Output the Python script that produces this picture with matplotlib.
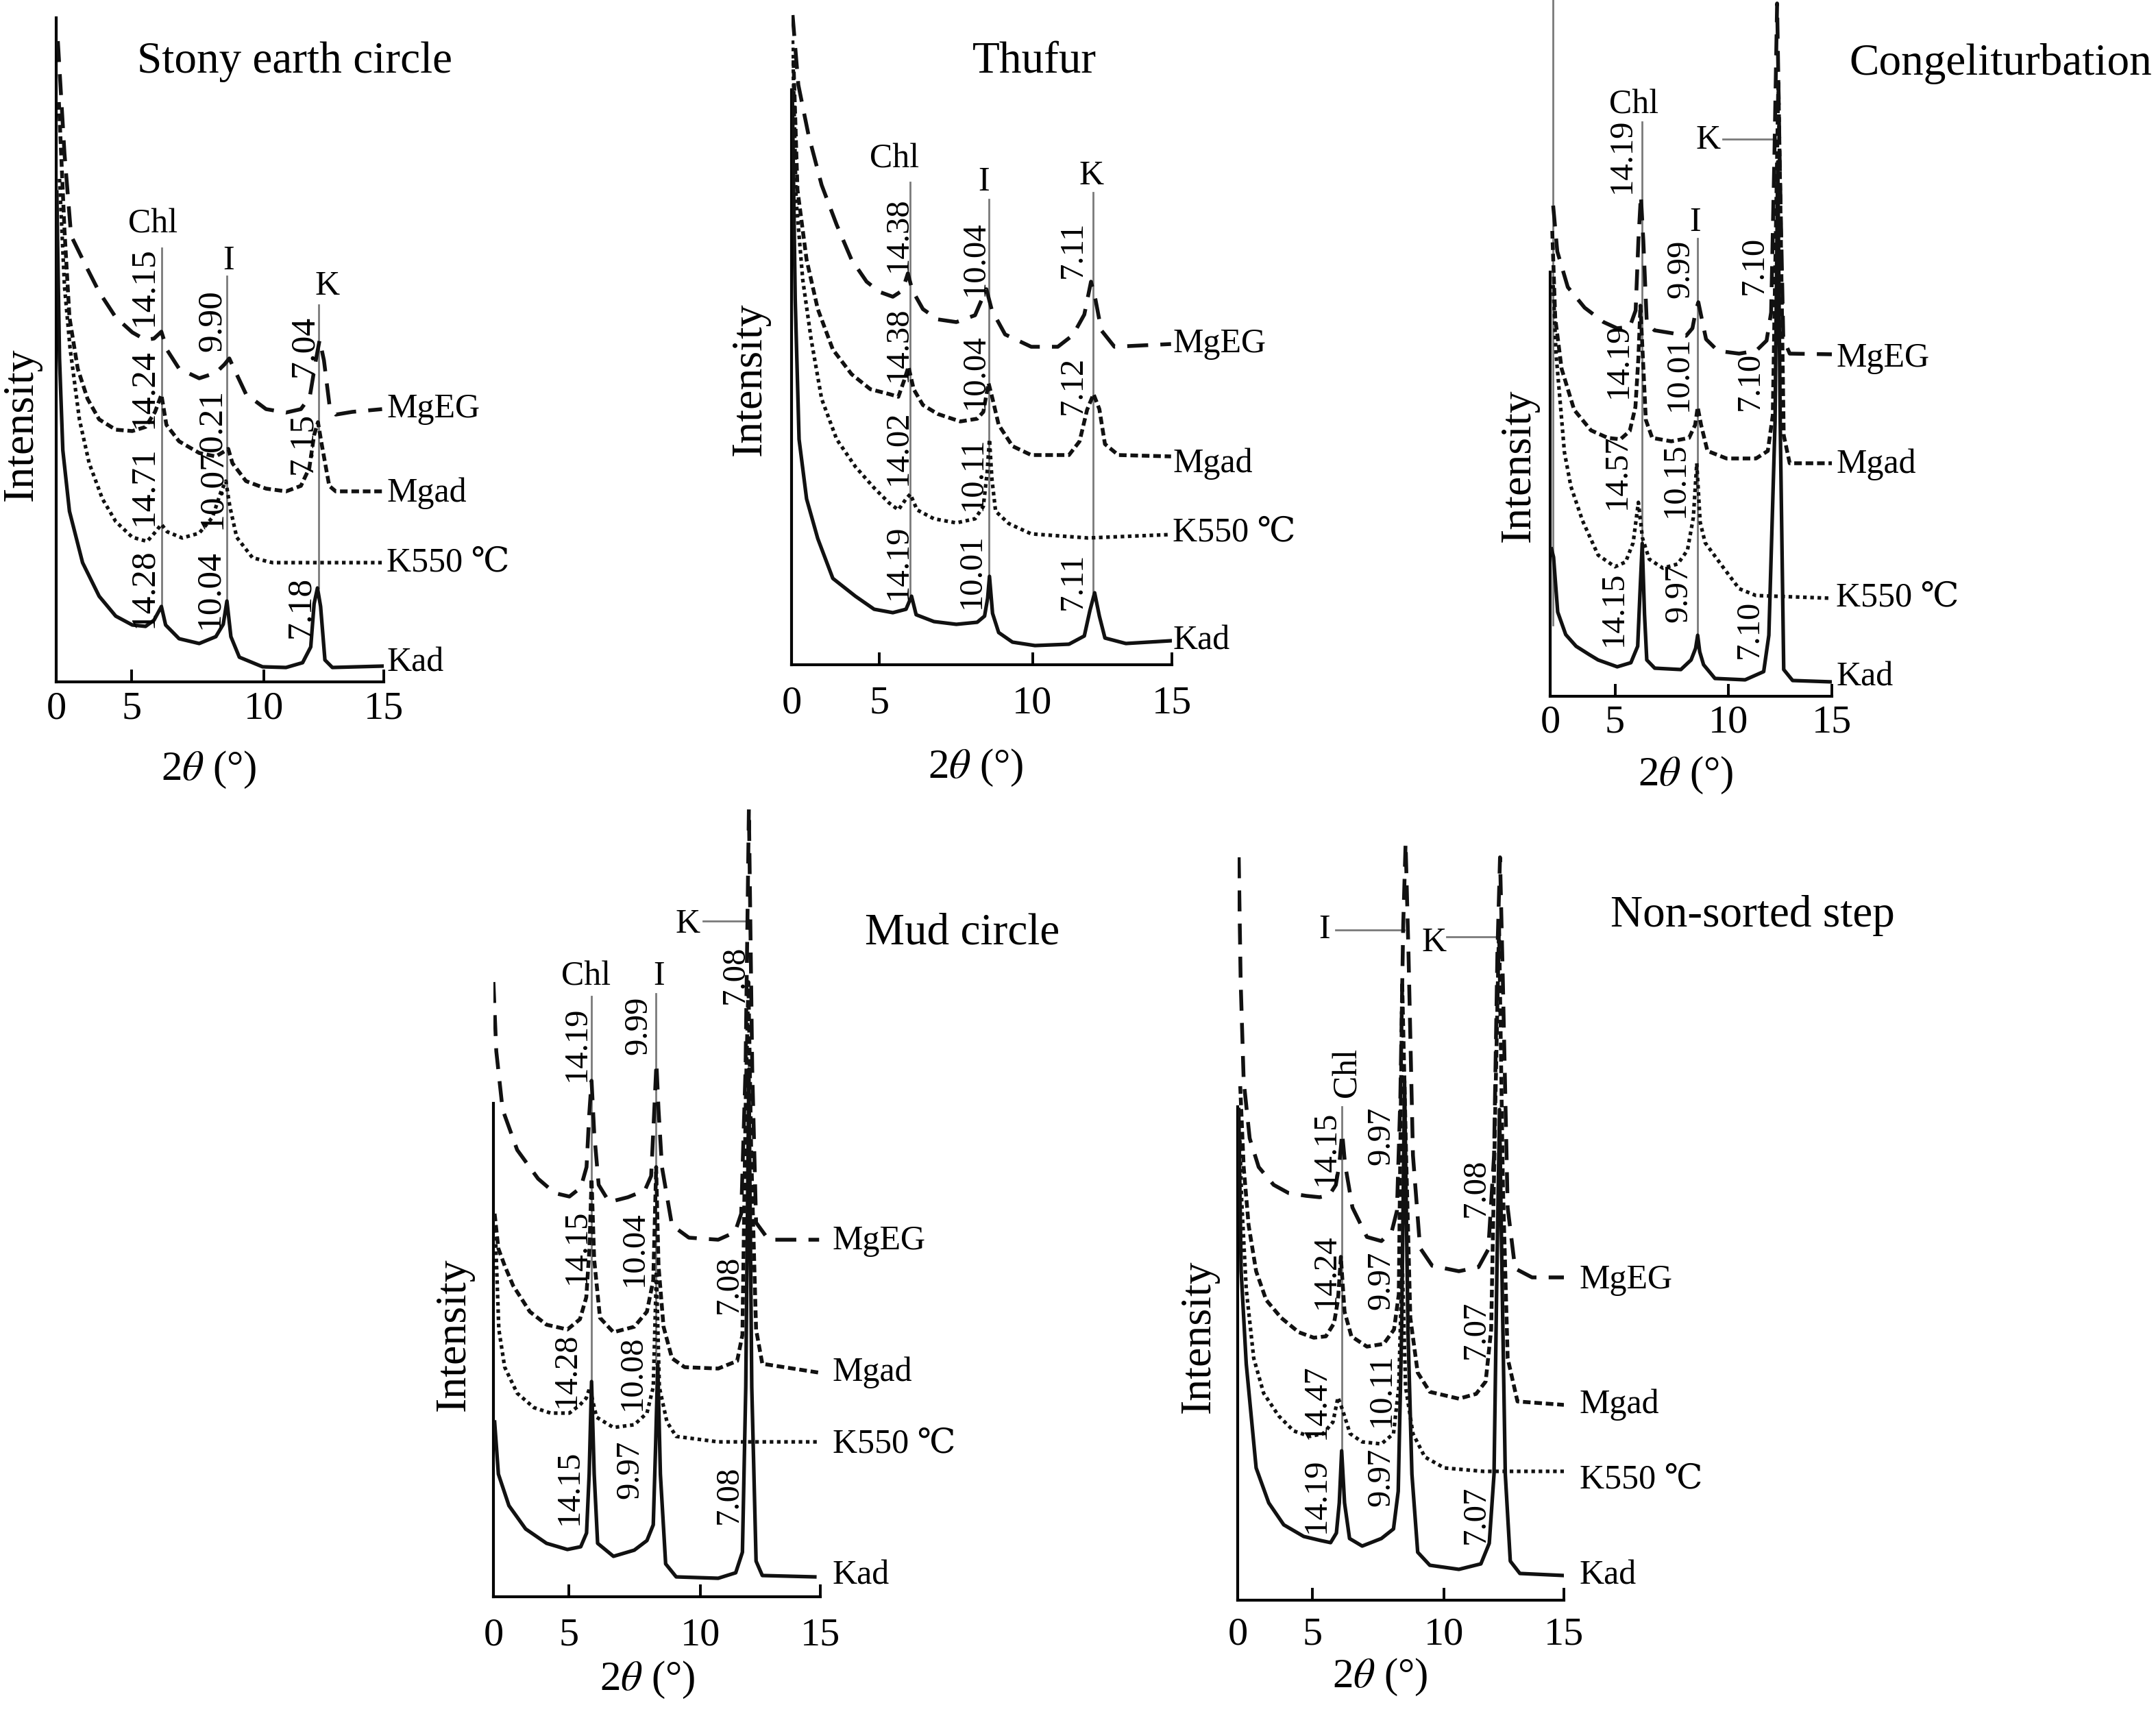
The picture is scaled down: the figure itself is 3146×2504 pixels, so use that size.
import numpy as np
import matplotlib
matplotlib.use('Agg')
from matplotlib import pyplot as plt

plt.rcParams['font.family'] = ['Liberation Serif', 'DejaVu Serif']
plt.rcParams['mathtext.fontset'] = 'stix'

W, H = 3146, 2504

series = ['MgEG', 'Mgad', 'K550 ℃', 'Kad']

# ---------------- Stony earth circle ----------------
p1_mgeg_x = [0.11, 0.55, 0.99, 1.97, 2.85, 3.95, 5.03, 5.53, 5.85, 6.13, 6.35, 6.80, 7.56, 8.19, 8.51, 8.70, 8.89, 9.33, 10.10, 10.93, 11.55, 11.92, 12.17, 12.33, 12.51, 12.75, 13.00, 13.69, 14.93]
p1_mgeg_y = [93.5, 77.1, 65.1, 60.7, 56.9, 53.2, 51.0, 49.9, 50.1, 51.1, 48.4, 45.7, 44.3, 45.1, 46.3, 47.2, 45.6, 42.0, 39.8, 39.3, 39.8, 41.6, 46.9, 49.9, 46.9, 40.1, 39.0, 39.4, 39.8]
p1_mgad_x = [0.18, 0.55, 0.88, 1.43, 2.08, 2.85, 3.95, 5.03, 5.53, 5.89, 6.13, 6.32, 6.80, 7.56, 8.19, 8.54, 8.66, 8.82, 9.33, 10.10, 10.93, 11.55, 11.90, 12.10, 12.26, 12.42, 12.73, 13.00, 14.93]
p1_mgad_y = [84.6, 65.9, 53.2, 45.7, 41.3, 38.3, 36.8, 36.6, 37.2, 39.4, 41.9, 37.5, 35.1, 33.4, 32.9, 33.7, 34.0, 31.9, 29.3, 28.2, 27.8, 28.6, 31.2, 36.0, 37.9, 34.6, 28.6, 27.8, 27.8]
p1_k550_x = [0.22, 0.55, 0.92, 1.54, 2.19, 3.07, 3.95, 5.03, 5.59, 5.91, 6.13, 6.35, 6.92, 7.56, 8.06, 8.38, 8.57, 8.72, 8.98, 9.58, 10.37, 14.93]
p1_k550_y = [73.4, 57.7, 48.7, 38.3, 31.9, 26.7, 23.4, 21.1, 20.5, 21.9, 23.0, 21.9, 21.0, 21.7, 24.0, 27.7, 29.3, 25.6, 21.1, 18.1, 17.4, 17.4]
p1_kad_x = [0.04, 0.22, 0.44, 0.88, 1.75, 2.85, 3.95, 5.03, 5.53, 5.85, 6.13, 6.29, 6.80, 7.56, 8.19, 8.47, 8.61, 8.76, 9.08, 9.96, 10.93, 11.62, 11.96, 12.10, 12.24, 12.37, 12.55, 12.86, 14.93]
p1_kad_y = [71.5, 47.2, 33.8, 24.9, 17.4, 12.5, 9.6, 8.3, 8.1, 9.0, 11.0, 8.3, 6.3, 5.6, 6.6, 8.4, 11.8, 6.6, 3.6, 2.2, 2.1, 2.8, 5.1, 11.4, 13.7, 11.0, 3.2, 2.1, 2.3]
p1_dvalues = ['14.15', '14.24', '14.71', '14.28', '9.90', '0.21', '10.07', '10.04', '7.04', '7.15', '7.18']
p1_dpos = [(5.47, 57.7), (5.47, 42.8), (5.47, 28.6), (5.47, 13.7), (8.06, 52.7), (8.06, 38.1), (8.06, 28.1), (7.94, 13.5), (11.69, 49.0), (11.62, 34.8), (11.55, 10.9)]

# ---------------- Thufur ----------------
p2_mgeg_x = [0.06, 0.39, 0.97, 1.72, 2.58, 3.43, 4.29, 5.02, 5.45, 5.76, 5.94, 6.09, 6.43, 6.91, 7.52, 8.13, 8.35, 8.50, 8.68, 9.11, 9.96, 10.91, 11.45, 11.86, 12.10, 12.26, 12.47, 12.94, 14.97]
p2_mgeg_y = [94.8, 84.6, 77.3, 70.0, 64.2, 59.1, 55.9, 54.4, 53.7, 54.6, 57.1, 54.6, 51.9, 50.4, 50.0, 51.0, 53.3, 54.8, 51.7, 48.2, 46.4, 46.4, 48.1, 51.1, 55.9, 53.3, 48.8, 46.4, 46.8]
p2_mgad_x = [0.11, 0.34, 0.86, 1.50, 2.36, 3.43, 4.51, 5.33, 5.63, 5.82, 5.96, 6.13, 6.43, 6.91, 7.65, 8.20, 8.40, 8.57, 8.70, 8.90, 9.35, 9.96, 11.31, 11.69, 11.96, 12.19, 12.40, 12.60, 13.08, 14.97]
p2_mgad_y = [88.2, 69.3, 59.1, 51.9, 46.0, 42.4, 40.2, 39.5, 39.1, 41.5, 43.5, 40.2, 37.9, 36.6, 35.5, 35.9, 36.9, 41.1, 38.8, 35.0, 31.9, 30.6, 30.6, 32.6, 37.2, 39.5, 37.3, 32.2, 30.6, 30.4]
p2_k550_x = [0.06, 0.26, 0.64, 1.12, 1.72, 2.58, 3.65, 4.72, 5.33, 5.63, 5.88, 6.02, 6.24, 6.79, 7.52, 8.13, 8.40, 8.52, 8.60, 8.68, 8.80, 9.23, 9.96, 11.99, 14.97]
p2_k550_y = [91.1, 67.9, 56.2, 47.5, 38.8, 32.9, 28.9, 25.8, 23.6, 22.6, 24.2, 24.9, 22.6, 21.3, 20.7, 21.3, 23.1, 27.9, 32.9, 27.1, 22.4, 20.6, 19.1, 18.5, 19.0]
p2_kad_x = [0.04, 0.21, 0.43, 0.86, 1.50, 2.36, 3.65, 4.72, 5.45, 5.88, 6.06, 6.21, 6.79, 7.52, 8.20, 8.44, 8.54, 8.60, 8.70, 8.90, 9.35, 10.09, 11.31, 11.86, 12.06, 12.23, 12.40, 12.60, 13.35, 14.97]
p2_kad_y = [83.9, 53.3, 32.9, 24.2, 18.4, 12.6, 10.0, 8.1, 7.6, 8.1, 10.0, 7.3, 6.3, 5.9, 6.2, 7.1, 9.7, 12.9, 7.5, 4.7, 3.3, 2.8, 3.0, 4.2, 7.9, 10.5, 7.1, 3.9, 3.1, 3.5]
p2_dvalues = ['14.38', '14.38', '14.02', '14.19', '10.04', '10.04', '10.11', '10.01', '7.11', '7.12', '7.11']
p2_dpos = [(5.63, 62.8), (5.63, 46.8), (5.63, 31.7), (5.63, 15.0), (8.13, 59.3), (8.13, 42.8), (8.07, 27.9), (8.01, 13.7), (11.45, 60.6), (11.45, 40.8), (11.45, 12.2)]

# ---------------- Congeliturbation ----------------
p3_mgeg_x = [0.23, 0.55, 1.36, 2.66, 4.12, 5.09, 5.65, 5.91, 6.03, 6.14, 6.25, 6.40, 6.74, 7.48, 8.13, 8.41, 8.56, 8.67, 8.82, 9.01, 9.53, 10.51, 11.33, 11.84, 12.06, 12.22, 12.35, 12.47, 12.65, 12.96, 15.0]
p3_mgeg_y = [71.6, 64.9, 59.7, 56.7, 54.6, 53.7, 53.9, 56.3, 66.4, 73.1, 66.4, 54.5, 53.4, 53.0, 52.6, 53.7, 56.3, 57.5, 55.1, 52.1, 50.4, 50.0, 50.4, 51.9, 56.0, 79.1, 101.1, 79.1, 52.2, 50.0, 49.9]
p3_mgad_x = [0.16, 0.39, 0.88, 1.85, 3.15, 4.45, 5.24, 5.65, 5.90, 6.03, 6.12, 6.23, 6.36, 6.64, 7.48, 8.26, 8.53, 8.64, 8.79, 9.07, 9.91, 11.33, 11.90, 12.14, 12.31, 12.41, 12.51, 12.67, 12.96, 15.0]
p3_mgad_y = [67.9, 55.2, 47.8, 41.8, 38.8, 37.7, 37.5, 38.7, 42.2, 49.3, 57.0, 49.3, 40.3, 37.7, 37.2, 37.7, 39.6, 42.2, 39.6, 35.8, 34.7, 34.7, 35.8, 41.0, 71.6, 90.0, 71.6, 38.1, 34.0, 34.0]
p3_k550_x = [0.23, 0.45, 0.80, 1.10, 1.60, 2.50, 3.70, 5.00, 5.47, 5.80, 6.03, 6.21, 6.51, 7.11, 7.76, 8.19, 8.45, 8.60, 8.75, 8.97, 9.72, 10.51, 11.33, 15.0]
p3_k550_y = [60.0, 50.0, 42.3, 35.6, 30.6, 25.6, 20.6, 18.9, 19.6, 22.4, 28.3, 23.1, 20.0, 18.7, 19.3, 21.3, 26.1, 34.0, 25.4, 22.4, 19.0, 15.7, 14.7, 14.3]
p3_kad_x = [0.10, 0.26, 0.58, 1.20, 2.00, 3.00, 3.70, 5.10, 5.70, 6.00, 6.10, 6.20, 6.30, 6.40, 6.75, 7.90, 8.35, 8.55, 8.64, 8.73, 8.90, 9.40, 10.80, 11.70, 11.95, 12.25, 12.38, 12.50, 12.67, 13.10, 15.0]
p3_kad_y = [21.5, 20.3, 12.3, 9.0, 7.3, 6.1, 5.3, 4.3, 4.9, 7.3, 15.0, 22.3, 12.0, 5.3, 4.1, 3.9, 5.3, 7.0, 8.9, 6.5, 4.6, 2.6, 2.4, 3.6, 8.9, 40.0, 78.0, 40.0, 3.9, 2.3, 2.1]
p3_dvalues = ['14.19', '14.19', '14.57', '14.15', '9.99', '10.01', '10.15', '9.97', '7.10', '7.10', '7.10']
p3_dpos = [(5.30, 78.9), (5.15, 49.0), (5.10, 32.8), (4.90, 12.8), (7.90, 62.4), (7.80, 47.1), (7.65, 31.6), (7.80, 15.1), (11.23, 62.9), (11.05, 46.0), (11.00, 9.8)]

# ---------------- Mud circle ----------------
p4_mgeg_x = [0.0, 0.19, 0.61, 1.58, 2.97, 4.08, 5.03, 5.46, 5.68, 5.78, 5.87, 5.97, 6.14, 6.54, 7.25, 7.89, 8.13, 8.24, 8.33, 8.41, 8.54, 8.92, 9.56, 10.74, 11.44, 11.70, 11.88, 12.02, 12.16, 12.32, 12.84, 14.95]
p4_mgeg_y = [89.7, 79.6, 71.1, 65.2, 61.0, 58.9, 58.4, 59.7, 62.7, 70.3, 75.3, 67.7, 60.1, 57.6, 58.3, 59.3, 61.4, 70.3, 77.9, 71.1, 62.7, 54.2, 52.4, 52.1, 53.2, 55.9, 77.0, 115.0, 77.0, 54.6, 52.1, 52.1]
p4_mgad_x = [0.08, 0.33, 0.75, 1.31, 2.42, 3.53, 4.92, 5.43, 5.67, 5.79, 5.87, 5.97, 6.19, 6.70, 7.49, 7.97, 8.21, 8.32, 8.41, 8.60, 8.92, 9.40, 10.74, 11.53, 11.75, 11.89, 12.00, 12.12, 12.32, 12.58, 14.95]
p4_mgad_y = [55.9, 50.8, 48.3, 45.4, 41.6, 39.7, 39.0, 40.5, 43.7, 50.8, 61.0, 49.2, 40.7, 38.6, 39.4, 41.6, 46.2, 62.7, 48.3, 39.4, 34.8, 33.5, 33.3, 34.4, 38.2, 72.8, 89.7, 64.4, 39.0, 34.0, 32.7]
p4_k550_x = [0.14, 0.36, 0.75, 1.58, 2.69, 3.81, 5.03, 5.43, 5.67, 5.80, 6.06, 6.70, 7.49, 7.97, 8.21, 8.33, 8.44, 8.73, 9.08, 10.74, 14.95]
p4_k550_y = [52.5, 39.0, 33.5, 29.7, 27.6, 26.8, 26.8, 28.0, 29.0, 30.5, 26.2, 24.7, 25.1, 26.8, 30.6, 47.5, 30.6, 25.5, 23.4, 22.6, 22.6]
p4_kad_x = [0.08, 0.33, 1.03, 2.14, 3.53, 4.92, 5.46, 5.68, 5.78, 5.87, 5.97, 6.10, 6.70, 7.49, 7.97, 8.21, 8.30, 8.38, 8.48, 8.68, 9.08, 10.74, 11.47, 11.75, 11.89, 12.02, 12.14, 12.32, 12.58, 14.77]
p4_kad_y = [25.5, 17.9, 13.3, 9.9, 7.8, 6.9, 7.3, 9.3, 17.9, 31.4, 17.9, 7.8, 5.9, 6.8, 8.2, 10.5, 22.1, 34.0, 17.9, 4.8, 2.9, 2.7, 3.5, 6.5, 30.6, 77.0, 30.6, 5.2, 3.1, 2.9]
p4_dvalues = ['14.19', '14.15', '14.28', '14.15', '9.99', '10.04', '10.08', '9.97', '7.08', '7.08', '7.08']
p4_dpos = [(5.30, 80.7), (5.30, 51.1), (4.86, 33.1), (5.03, 16.0), (7.65, 83.4), (7.49, 50.8), (7.41, 32.7), (7.33, 18.6), (11.44, 90.8), (11.18, 45.6), (11.18, 14.9)]

# ---------------- Non-sorted step ----------------
p5_mgeg_x = [0.07, 0.20, 0.40, 0.80, 1.40, 2.40, 3.40, 4.57, 5.26, 5.63, 5.88, 6.01, 6.12, 6.23, 6.51, 7.06, 7.61, 8.01, 8.20, 8.33, 8.44, 8.53, 8.64, 8.81, 9.08, 9.54, 10.61, 11.43, 11.84, 12.08, 12.22, 12.33, 12.45, 12.65, 12.96, 13.67, 15.0]
p5_mgeg_y = [108.4, 90.2, 75.8, 67.4, 63.2, 60.6, 59.4, 59.0, 58.8, 59.1, 60.6, 63.6, 68.2, 63.6, 57.3, 53.0, 52.4, 53.9, 56.8, 73.3, 98.6, 110.5, 94.4, 64.9, 51.4, 48.8, 48.0, 48.6, 51.2, 64.9, 94.4, 108.4, 90.2, 57.3, 48.4, 47.1, 47.1]
p5_mgad_x = [0.17, 0.40, 0.73, 1.23, 1.90, 2.90, 4.07, 5.04, 5.50, 5.81, 5.96, 6.07, 6.21, 6.47, 7.06, 7.70, 8.09, 8.27, 8.40, 8.55, 8.71, 8.99, 9.45, 10.61, 11.33, 11.73, 11.96, 12.14, 12.29, 12.45, 12.65, 13.06, 15.0]
p5_mgad_y = [75.0, 63.2, 54.7, 48.0, 43.8, 41.2, 39.1, 38.3, 38.5, 40.4, 43.8, 50.1, 42.1, 38.5, 37.0, 37.4, 39.5, 44.6, 90.2, 64.9, 41.2, 33.2, 30.4, 29.4, 30.1, 31.9, 39.5, 73.3, 98.6, 60.6, 35.3, 29.0, 28.5]
p5_k550_x = [0.13, 0.27, 0.57, 1.07, 1.73, 2.73, 3.73, 4.80, 5.40, 5.77, 5.96, 6.14, 6.42, 6.88, 7.61, 8.07, 8.27, 8.40, 8.53, 8.81, 9.26, 10.0, 11.63, 15.0]
p5_k550_y = [68.2, 58.1, 45.4, 35.3, 30.2, 26.9, 24.7, 23.9, 24.3, 26.0, 29.6, 27.7, 24.3, 23.1, 22.8, 24.3, 31.1, 49.7, 31.1, 24.3, 20.9, 19.3, 18.8, 18.8]
p5_kad_x = [0.07, 0.23, 0.57, 1.23, 2.07, 3.07, 4.40, 5.31, 5.68, 5.90, 6.01, 6.10, 6.21, 6.40, 6.88, 7.61, 8.07, 8.25, 8.38, 8.49, 8.62, 8.77, 8.99, 9.45, 10.61, 11.53, 11.88, 12.08, 12.20, 12.31, 12.41, 12.55, 12.76, 13.16, 15.0]
p5_kad_y = [71.6, 48.0, 34.5, 19.3, 14.2, 11.0, 9.3, 8.7, 8.4, 9.8, 14.2, 21.8, 14.2, 9.0, 7.9, 9.0, 10.4, 15.9, 39.5, 75.8, 39.5, 18.4, 7.0, 5.1, 4.5, 5.3, 8.3, 18.4, 48.0, 71.6, 48.0, 18.4, 5.7, 3.9, 3.6]
p5_dvalues = ['14.15', '14.24', '14.47', '14.19', '9.97', '9.97', '10.11', '9.97', '7.08', '7.07', '7.07']
p5_dpos = [(5.50, 66.0), (5.50, 48.0), (5.13, 29.0), (5.13, 15.3), (7.61, 67.8), (7.61, 46.7), (7.61, 30.7), (7.61, 18.0), (11.33, 60.2), (11.33, 39.5), (11.33, 12.5)]

# uneven 2-theta axis of the original figure (tick 5 and 10 are not evenly spaced)
KX = [-30, 0, 5, 10, 15, 45]
KY = [-30, 0, 3.45, 9.5, 15, 45]


def fwd(x):
    return np.interp(x, KX, KY)


def inv(y):
    return np.interp(y, KY, KX)


styles = {
    'MgEG': dict(ls=(0, (5.5, 3.2)), lw=4.0),
    'Mgad': dict(ls=(0, (2.0, 1.0)), lw=4.0),
    'K550 ℃': dict(ls=(0, (1, 1)), lw=3.8),
    'Kad': dict(ls='-', lw=3.8),
}

panels = [
    dict(title='Stony earth circle', box=(82, 560, 995, 0), spine_top=96.9,
         curves=[(p1_mgeg_x, p1_mgeg_y), (p1_mgad_x, p1_mgad_y), (p1_k550_x, p1_k550_y), (p1_kad_x, p1_kad_y)],
         dvalues=p1_dvalues, dpos=p1_dpos, dsize=37,
         vlines=[(6.13, 11.0, 63.3), (8.61, 11.8, 59.2), (12.28, 13.7, 55.0)], hlines=[],
         peaks=[('Chl', 5.80, 66.8, 0), ('I', 8.67, 61.4, 0), ('K', 12.65, 57.7, 0)],
         name_x=15.14, name_y=[39.8, 27.5, 17.4, 2.8],
         title_px=(430, 90), ylab_px=(32, 619), xlab_px=(305, 1123), pad=10),
    dict(title='Thufur', box=(1155, 1710, 970, 0), spine_top=83.9,
         curves=[(p2_mgeg_x, p2_mgeg_y), (p2_mgad_x, p2_mgad_y), (p2_k550_x, p2_k550_y), (p2_kad_x, p2_kad_y)],
         dvalues=p2_dvalues, dpos=p2_dpos, dsize=35,
         vlines=[(6.02, 10.0, 70.4), (8.59, 12.9, 67.9), (12.17, 10.4, 68.9)], hlines=[],
         peaks=[('Chl', 5.50, 73.8, 0), ('I', 8.42, 70.4, 0), ('K', 12.12, 71.3, 0)],
         name_x=15.04, name_y=[46.8, 29.3, 19.3, 3.5],
         title_px=(1509, 91), ylab_px=(1095, 553), xlab_px=(1424, 1120), pad=22),
    dict(title='Congeliturbation', box=(2262, 2673, 1016, 0), spine_top=61.9,
         curves=[(p3_mgeg_x, p3_mgeg_y), (p3_mgad_x, p3_mgad_y), (p3_k550_x, p3_k550_y), (p3_kad_x, p3_kad_y)],
         dvalues=p3_dvalues, dpos=p3_dpos, dsize=35,
         vlines=[(6.18, 22.3, 83.8), (8.64, 8.9, 66.8), (0.2, 10.4, 101.6)], hlines=[(9.76, 12.38, 81.3)],
         peaks=[('Chl', 5.84, 86.3, 0), ('I', 8.52, 69.1, 0), ('K', 9.10, 81.1, 0)],
         name_x=15.22, name_y=[49.3, 33.8, 14.4, 2.8],
         title_px=(2919, 93), ylab_px=(2217, 679), xlab_px=(2460, 1131), pad=9),
    dict(title='Mud circle', box=(720, 1197, 2330, 1180), spine_top=72.0,
         curves=[(p4_mgeg_x, p4_mgeg_y), (p4_mgad_x, p4_mgad_y), (p4_k550_x, p4_k550_y), (p4_kad_x, p4_kad_y)],
         dvalues=p4_dvalues, dpos=p4_dpos, dsize=35,
         vlines=[(5.87, 31.4, 87.6), (8.32, 34.0, 88.0)], hlines=[(10.12, 12.02, 98.6)],
         peaks=[('Chl', 5.67, 90.5, 0), ('I', 8.42, 90.5, 0), ('K', 9.52, 98.1, 0)],
         name_x=15.56, name_y=[51.9, 32.7, 22.3, 3.1],
         title_px=(1404, 1362), ylab_px=(663, 1947), xlab_px=(945, 2451), pad=22),
    dict(title='Non-sorted step', box=(1806, 2282, 2335, 1180), spine_top=72.0,
         curves=[(p5_mgeg_x, p5_mgeg_y), (p5_mgad_x, p5_mgad_y), (p5_k550_x, p5_k550_y), (p5_kad_x, p5_kad_y)],
         dvalues=p5_dvalues, dpos=p5_dpos, dsize=35,
         vlines=[(6.10, 21.8, 72.0)], hlines=[(5.86, 8.49, 97.8), (10.10, 12.24, 96.8)],
         peaks=[('Chl', 6.32, 77.0, 90), ('I', 5.44, 97.8, 0), ('K', 9.60, 95.9, 0)],
         name_x=15.71, name_y=[46.7, 28.5, 17.6, 3.6],
         title_px=(2557, 1336), ylab_px=(1750, 1950), xlab_px=(2014, 2447), pad=18),
]

fig = plt.figure(figsize=(W / 100, H / 100), dpi=100)

for p in panels:
    l, r, b, t = p['box']
    ax = fig.add_axes([l / W, 1 - b / H, (r - l) / W, (b - t) / H])
    ax.set_facecolor('none')
    ax.set_xscale('function', functions=(fwd, inv))
    ax.set_xlim(0, 15)
    ax.set_ylim(0, (b - t) / 10)
    for s in ['top', 'right']:
        ax.spines[s].set_visible(False)
    ax.spines['left'].set_bounds(0, p['spine_top'])
    for s in ['left', 'bottom']:
        ax.spines[s].set_linewidth(3.0)
    ax.set_yticks([])
    ax.set_xticks([0, 5, 10, 15])
    ax.tick_params(axis='x', direction='in', length=13, width=2.8, labelsize=42, pad=p['pad'])

    for name, (x, y) in zip(series, p['curves']):
        ax.plot(x, y, color='#111111', zorder=3, **styles[name])

    for xv, y0, y1 in p['vlines']:
        ax.plot([xv, xv], [y0, y1], color='#7a7a7a', lw=2.0, zorder=2)
    for x0, x1, yv in p['hlines']:
        ax.plot([x0, x1], [yv, yv], color='#7a7a7a', lw=2.0, zorder=2)

    for txt, (xv, yv) in zip(p['dvalues'], p['dpos']):
        ax.text(xv, yv, txt, rotation=90, ha='center', va='center', fontsize=p['dsize'], zorder=5)
    for txt, xv, yv, rot in p['peaks']:
        ax.text(xv, yv, txt, rotation=rot, ha='center', va='center', fontsize=36, zorder=5)
    for name, yv in zip(series, p['name_y']):
        ax.text(p['name_x'], yv, name, ha='left', va='center', fontsize=36)

    tx, ty = p['title_px']
    fig.text(tx / W, 1 - ty / H, p['title'], ha='center', va='center', fontsize=47)
    yx, yy = p['ylab_px']
    fig.text(yx / W, 1 - yy / H, 'Intensity', rotation=90, ha='center', va='center', fontsize=46)
    xx, xy = p['xlab_px']
    fig.text(xx / W, 1 - xy / H, r'2$\theta$ (°)', ha='center', va='center', fontsize=44)

fig.savefig('out.png', dpi=100)
